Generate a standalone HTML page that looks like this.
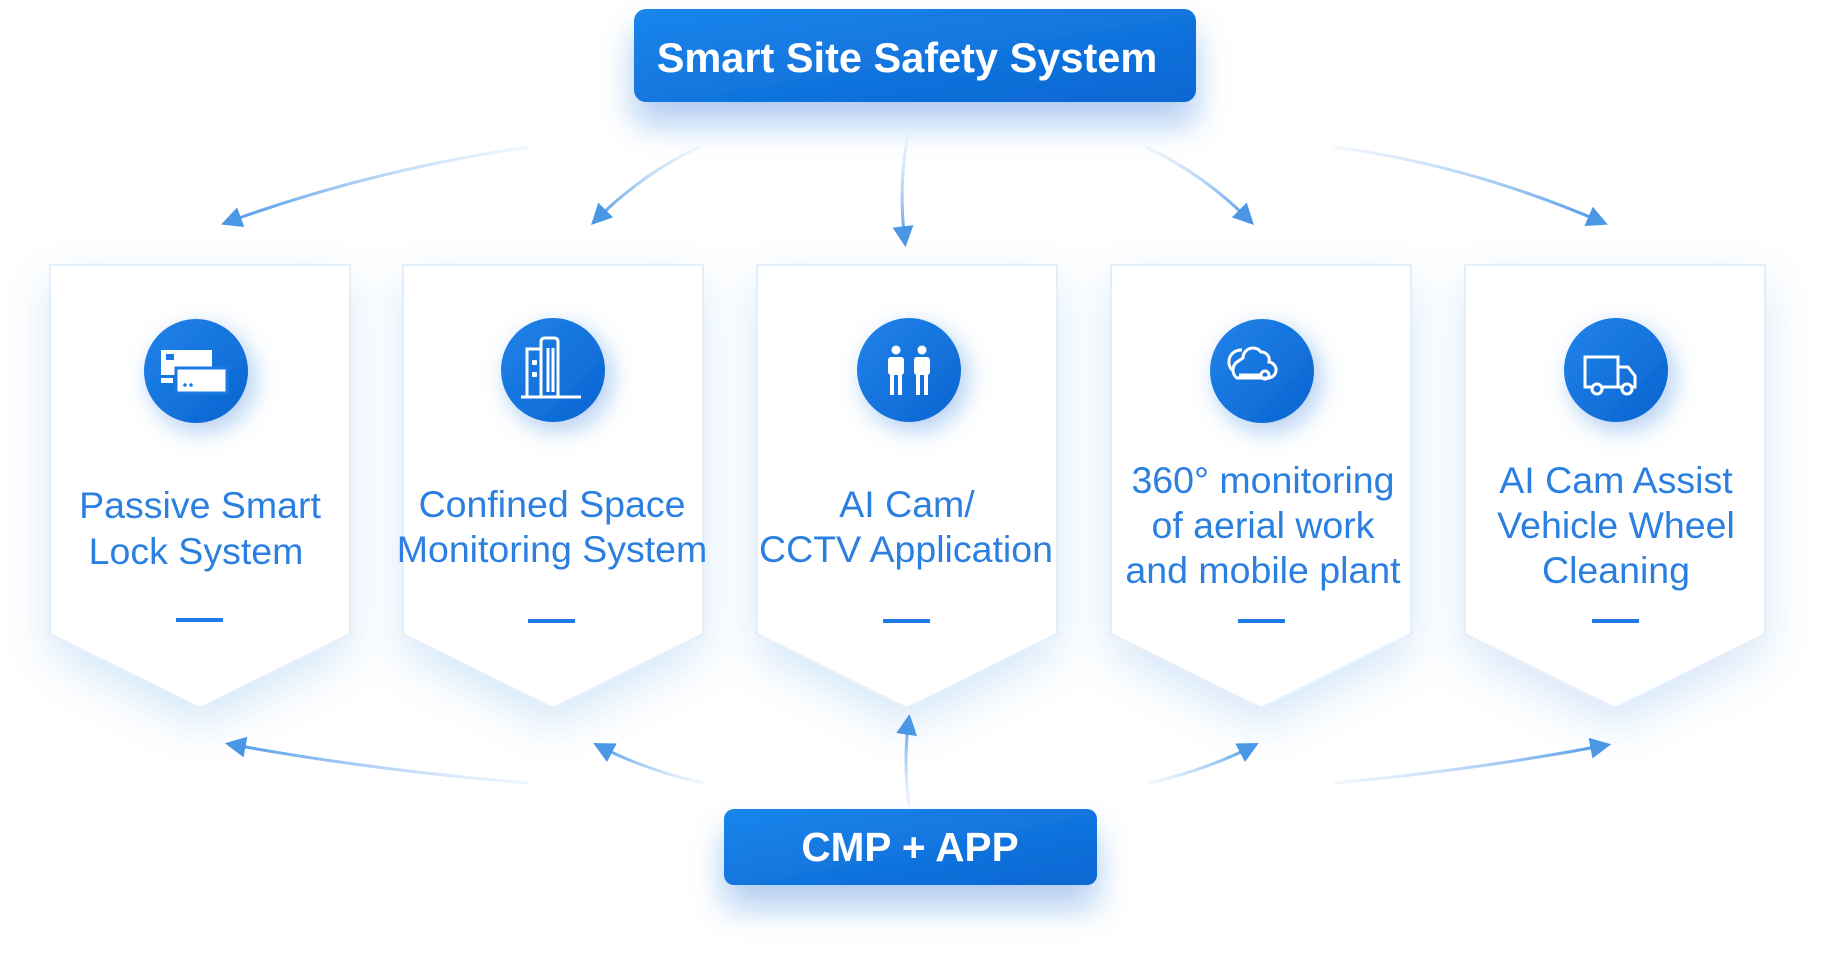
<!DOCTYPE html>
<html><head><meta charset="utf-8"><style>
html,body{margin:0;padding:0;background:#fff;width:1833px;height:956px;overflow:hidden}
svg{display:block}
text{font-family:"Liberation Sans",sans-serif}
</style></head><body>
<svg width="1833" height="956" viewBox="0 0 1833 956" xmlns="http://www.w3.org/2000/svg">
<defs>
<filter id="cs" x="-30%" y="-30%" width="160%" height="170%"><feDropShadow dx="0" dy="18" stdDeviation="22" flood-color="#1a6fd8" flood-opacity="0.16"/></filter>
<filter id="bs" x="-30%" y="-40%" width="160%" height="220%"><feDropShadow dx="0" dy="22" stdDeviation="16" flood-color="#1a6fd8" flood-opacity="0.35"/></filter>
<filter id="ic" x="-60%" y="-60%" width="220%" height="220%"><feDropShadow dx="6" dy="8" stdDeviation="12" flood-color="#1a6fd8" flood-opacity="0.35"/></filter>
<linearGradient id="bg" x1="0" y1="0" x2="1" y2="1"><stop offset="0" stop-color="#1a86ec"/><stop offset="1" stop-color="#0a66d2"/></linearGradient>
<linearGradient id="cg" x1="0" y1="0" x2="1" y2="1"><stop offset="0" stop-color="#2183ea"/><stop offset="1" stop-color="#0a64d0"/></linearGradient>
<marker id="ah" viewBox="0 0 10 10" refX="8" refY="5" markerWidth="7" markerHeight="7" orient="auto"><path d="M0,0 L10,5 L0,10 Z" fill="#4a97e6"/></marker>
</defs>

<!-- top box -->
<rect x="634" y="9" width="562" height="93" rx="12" fill="url(#bg)" filter="url(#bs)"/>
<text x="907" y="72" text-anchor="middle" font-size="41.5" font-weight="bold" fill="#fff">Smart Site Safety System</text>

<!-- top arrows -->
<g fill="none" stroke-width="3" marker-end="url(#ah)">
<linearGradient id="a1" gradientUnits="userSpaceOnUse" x1="529" y1="147" x2="225" y2="223"><stop offset="0" stop-color="#cfe4fb" stop-opacity="0.3"/><stop offset="1" stop-color="#4a97e6"/></linearGradient>
<path d="M529,147 Q370,170 225,223" stroke="url(#a1)"/>
<linearGradient id="a2" gradientUnits="userSpaceOnUse" x1="699" y1="147" x2="594" y2="222"><stop offset="0" stop-color="#cfe4fb" stop-opacity="0.3"/><stop offset="1" stop-color="#4a97e6"/></linearGradient>
<path d="M699,147 Q640,175 594,222" stroke="url(#a2)"/>
<linearGradient id="a3" gradientUnits="userSpaceOnUse" x1="908" y1="135" x2="905" y2="243"><stop offset="0" stop-color="#cfe4fb" stop-opacity="0.3"/><stop offset="1" stop-color="#4a97e6"/></linearGradient>
<path d="M908,135 Q898,185 905,243" stroke="url(#a3)"/>
<linearGradient id="a4" gradientUnits="userSpaceOnUse" x1="1146" y1="147" x2="1251" y2="222"><stop offset="0" stop-color="#cfe4fb" stop-opacity="0.3"/><stop offset="1" stop-color="#4a97e6"/></linearGradient>
<path d="M1146,147 Q1205,175 1251,222" stroke="url(#a4)"/>
<linearGradient id="a5" gradientUnits="userSpaceOnUse" x1="1334" y1="147" x2="1604" y2="223"><stop offset="0" stop-color="#cfe4fb" stop-opacity="0.3"/><stop offset="1" stop-color="#4a97e6"/></linearGradient>
<path d="M1334,147 Q1470,165 1604,223" stroke="url(#a5)"/>
</g>

<!-- cards -->
<g fill="#fff" stroke="#e3eefb" stroke-width="2" filter="url(#cs)">
<polygon points="50,265 350,265 350,634 200,708 50,634"/>
<polygon points="403,265 703,265 703,634 553,708 403,634"/>
<polygon points="757,265 1057,265 1057,634 907,708 757,634"/>
<polygon points="1111,265 1411,265 1411,634 1261,708 1111,634"/>
<polygon points="1465,265 1765,265 1765,634 1615,708 1465,634"/>
</g>

<!-- circles -->
<g fill="url(#cg)" filter="url(#ic)">
<circle cx="196" cy="371" r="52"/>
<circle cx="553" cy="370" r="52"/>
<circle cx="909" cy="370" r="52"/>
<circle cx="1262" cy="371" r="52"/>
<circle cx="1616" cy="370" r="52"/>
</g>

<!-- icons -->
<g fill="#fff">
<rect x="161" y="350" width="51" height="25"/>
<rect x="166" y="354" width="8" height="6" fill="#1a7ae4"/>
<rect x="161" y="378" width="12" height="5"/>
<rect x="176" y="368" width="51" height="25" stroke="#1a7ae4" stroke-width="3"/>
<circle cx="185" cy="385" r="1.8" fill="#1a7ae4"/><circle cx="191" cy="385" r="1.8" fill="#1a7ae4"/>
</g>
<g fill="none" stroke="#fff" stroke-width="3">
<path d="M527,397 V349 h14 V397"/><path d="M541,397 V342 q0,-4 4,-4 h9 q4,0 4,4 V397"/>
<path d="M548,348 V392 M553,348 V392"/>
<path d="M521,397 H581"/>
<path d="M1243,358 a10,10 0 0 1 18,-6 a8,8 0 0 1 8,10 a8,8 0 0 1 -2,16 h-30 a10,10 0 0 1 0,-16 z" />
<path d="M1232,370 a12,12 0 0 1 10,-20" />
<path d="M1239,375 h22" /><circle cx="1265" cy="375" r="4"/>
<path d="M1585,357 h33 v30 h-33 z"/><path d="M1618,367 h10 l7,9 v11 h-17"/>
</g>
<g fill="#fff">
<rect x="532" y="360" width="5" height="5" rx="1"/><rect x="532" y="372" width="5" height="5" rx="1"/>
<circle cx="896" cy="350" r="4.5"/><rect x="888" y="357" width="16" height="18" rx="3"/><rect x="890" y="375" width="4" height="20"/><rect x="898" y="375" width="4" height="20"/>
<circle cx="922" cy="350" r="4.5"/><rect x="914" y="357" width="16" height="18" rx="3"/><rect x="916" y="375" width="4" height="20"/><rect x="924" y="375" width="4" height="20"/>
</g>
<g fill="#1a72e0" stroke="#fff" stroke-width="3">
<circle cx="1597" cy="389" r="5"/><circle cx="1627" cy="389" r="5"/>
</g>

<!-- labels -->
<g font-size="37.5" fill="#2b7fe0" text-anchor="middle">
<text x="200" y="518">Passive Smart</text>
<text x="196" y="564">Lock System</text>
<text x="552" y="517">Confined Space</text>
<text x="552" y="562">Monitoring System</text>
<text x="907" y="517">AI Cam/</text>
<text x="906" y="562">CCTV Application</text>
<text x="1263" y="493">360° monitoring</text>
<text x="1263" y="538">of aerial work</text>
<text x="1263" y="583">and mobile plant</text>
<text x="1616" y="493">AI Cam Assist</text>
<text x="1616" y="538">Vehicle Wheel</text>
<text x="1616" y="583">Cleaning</text>
</g>
<g fill="#1f7ce6">
<rect x="176" y="618" width="47" height="4"/>
<rect x="528" y="619" width="47" height="4"/>
<rect x="883" y="619" width="47" height="4"/>
<rect x="1238" y="619" width="47" height="4"/>
<rect x="1592" y="619" width="47" height="4"/>
</g>

<!-- bottom arrows -->
<g fill="none" stroke-width="3" marker-end="url(#ah)">
<linearGradient id="b1" gradientUnits="userSpaceOnUse" x1="529" y1="783" x2="229" y2="744"><stop offset="0" stop-color="#cfe4fb" stop-opacity="0.3"/><stop offset="1" stop-color="#4a97e6"/></linearGradient>
<path d="M529,783 Q370,770 229,744" stroke="url(#b1)"/>
<linearGradient id="b2" gradientUnits="userSpaceOnUse" x1="703" y1="783" x2="597" y2="745"><stop offset="0" stop-color="#cfe4fb" stop-opacity="0.3"/><stop offset="1" stop-color="#4a97e6"/></linearGradient>
<path d="M703,783 Q645,770 597,745" stroke="url(#b2)"/>
<linearGradient id="b3" gradientUnits="userSpaceOnUse" x1="909" y1="806" x2="909" y2="718"><stop offset="0" stop-color="#cfe4fb" stop-opacity="0.3"/><stop offset="1" stop-color="#4a97e6"/></linearGradient>
<path d="M909,806 Q903,760 909,718" stroke="url(#b3)"/>
<linearGradient id="b4" gradientUnits="userSpaceOnUse" x1="1149" y1="783" x2="1255" y2="745"><stop offset="0" stop-color="#cfe4fb" stop-opacity="0.3"/><stop offset="1" stop-color="#4a97e6"/></linearGradient>
<path d="M1149,783 Q1207,770 1255,745" stroke="url(#b4)"/>
<linearGradient id="b5" gradientUnits="userSpaceOnUse" x1="1334" y1="783" x2="1607" y2="745"><stop offset="0" stop-color="#cfe4fb" stop-opacity="0.3"/><stop offset="1" stop-color="#4a97e6"/></linearGradient>
<path d="M1334,783 Q1475,770 1607,745" stroke="url(#b5)"/>
</g>

<!-- bottom box -->
<rect x="724" y="809" width="373" height="76" rx="10" fill="url(#bg)" filter="url(#bs)"/>
<text x="910" y="861" text-anchor="middle" font-size="40.5" font-weight="bold" fill="#fff">CMP + APP</text>
</svg>
</body></html>
